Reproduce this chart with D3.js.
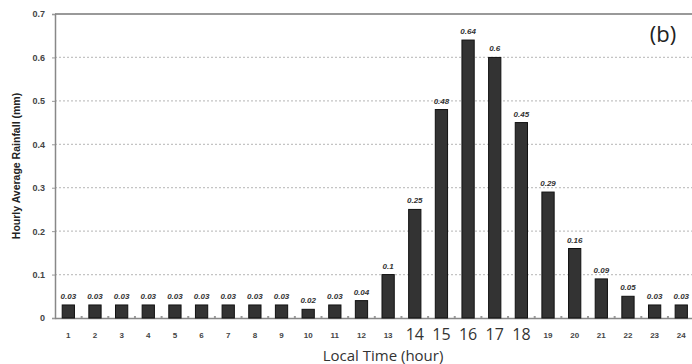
<!DOCTYPE html>
<html><head><meta charset="utf-8">
<script src="https://cdn.jsdelivr.net/npm/d3@7"></script>
<style>body{margin:0;background:#fff}svg{display:block}</style>
</head><body>
<svg id="c" width="692" height="364"></svg>
<script>
const hours = ["1","2","3","4","5","6","7","8","9","10","11","12","13","14","15","16","17","18","19","20","21","22","23","24"];
const rainfall = [0.03,0.03,0.03,0.03,0.03,0.03,0.03,0.03,0.03,0.02,0.03,0.04,0.1,0.25,0.48,0.64,0.6,0.45,0.29,0.16,0.09,0.05,0.03,0.03];
const valueLabels = ["0.03","0.03","0.03","0.03","0.03","0.03","0.03","0.03","0.03","0.02","0.03","0.04","0.1","0.25","0.48","0.64","0.6","0.45","0.29","0.16","0.09","0.05","0.03","0.03"];
const bigHours = ["14","15","16","17","18"];
const yTicks = [0,0.1,0.2,0.3,0.4,0.5,0.6,0.7];

const svg = d3.select("#c");
const L = 55, R = 694.6, T = 14, B = 318;
const x = d3.scaleBand().domain(hours).range([L, R]).paddingInner(0.54).paddingOuter(0.27);
const y = d3.scaleLinear().domain([0, 0.7]).range([B, T]);

// gridlines
svg.append("g").selectAll("line").data(yTicks.filter(d => d > 0 && d < 0.7)).join("line")
  .attr("x1", L).attr("x2", 692).attr("y1", d => y(d)).attr("y2", d => y(d))
  .attr("stroke", "#c4c4c4").attr("stroke-width", 1.2).attr("stroke-dasharray", "2,2");
// top border
svg.append("line").attr("x1", L).attr("x2", 692).attr("y1", y(0.7)).attr("y2", y(0.7))
  .attr("stroke", "#999").attr("stroke-width", 2);

// y axis
const yAxis = d3.axisLeft(y).tickValues(yTicks).tickSize(3).tickFormat(d => d === 0 ? "0" : d3.format(".1f")(d));
const gy = svg.append("g").attr("transform", `translate(${L},0)`).call(yAxis);
gy.select(".domain").attr("stroke", "#888").attr("stroke-width", 1.5);
gy.selectAll(".tick line").attr("stroke", "#999");
gy.selectAll(".tick text").attr("font-family", "Liberation Sans, Arial, sans-serif").attr("font-weight", "bold")
  .attr("font-size", 9).attr("fill", "#444").attr("x", -10);

// x axis
const xAxis = d3.axisBottom(x).tickSize(0).tickPadding(0);
const gx = svg.append("g").attr("transform", `translate(0,${B})`).call(xAxis);
gx.select(".domain").attr("stroke", "#888").attr("stroke-width", 1.5);
gx.selectAll(".tick text")
  .attr("font-family", d => bigHours.includes(d) ? "Open Sans, sans-serif" : "Liberation Sans, Arial, sans-serif")
  .attr("font-weight", d => bigHours.includes(d) ? "normal" : "bold")
  .attr("font-size", d => bigHours.includes(d) ? 16 : 8)
  .attr("fill", d => bigHours.includes(d) ? "#333" : "#444")
  .attr("dy", 0)
  .attr("y", d => bigHours.includes(d) ? 22 : 20);

// minor tick dots between bars
svg.append("g").selectAll("rect").data(hours.slice(1)).join("rect")
  .attr("x", d => x(d) - x.step() * x.paddingInner() / 2 - 1).attr("y", B - 2)
  .attr("width", 2).attr("height", 2).attr("fill", "#999");

// bars
svg.append("g").selectAll("rect").data(rainfall).join("rect")
  .attr("x", (d, i) => x(hours[i])).attr("width", x.bandwidth())
  .attr("y", d => y(d)).attr("height", d => B - y(d))
  .attr("fill", "#333").attr("stroke", "#111").attr("stroke-width", 1);

// value labels
svg.append("g").selectAll("text").data(rainfall).join("text")
  .attr("x", (d, i) => x(hours[i]) + x.bandwidth() / 2).attr("y", d => y(d) - 6)
  .attr("text-anchor", "middle").attr("font-family", "Liberation Sans, Arial, sans-serif")
  .attr("font-weight", "bold").attr("font-style", "italic").attr("font-size", 8).attr("fill", "#333")
  .text((d, i) => valueLabels[i]);

// titles
svg.append("text").attr("x", 383).attr("y", 361).attr("text-anchor", "middle")
  .attr("font-family", "Open Sans, sans-serif").attr("font-size", 15).attr("fill", "#333").text("Local Time (hour)");
svg.append("text").attr("transform", "translate(16,166) rotate(-90)").attr("text-anchor", "middle")
  .attr("font-family", "Liberation Sans, Arial, sans-serif").attr("font-weight", "bold").attr("font-size", 10.5)
  .attr("fill", "#222").attr("dy", "0.35em").text("Hourly Average Rainfall (mm)");
svg.append("text").attr("x", 663).attr("y", 42).attr("text-anchor", "middle")
  .attr("font-family", "Open Sans, sans-serif").attr("font-size", 22).attr("fill", "#222").text("(b)");
</script>
</body></html>
